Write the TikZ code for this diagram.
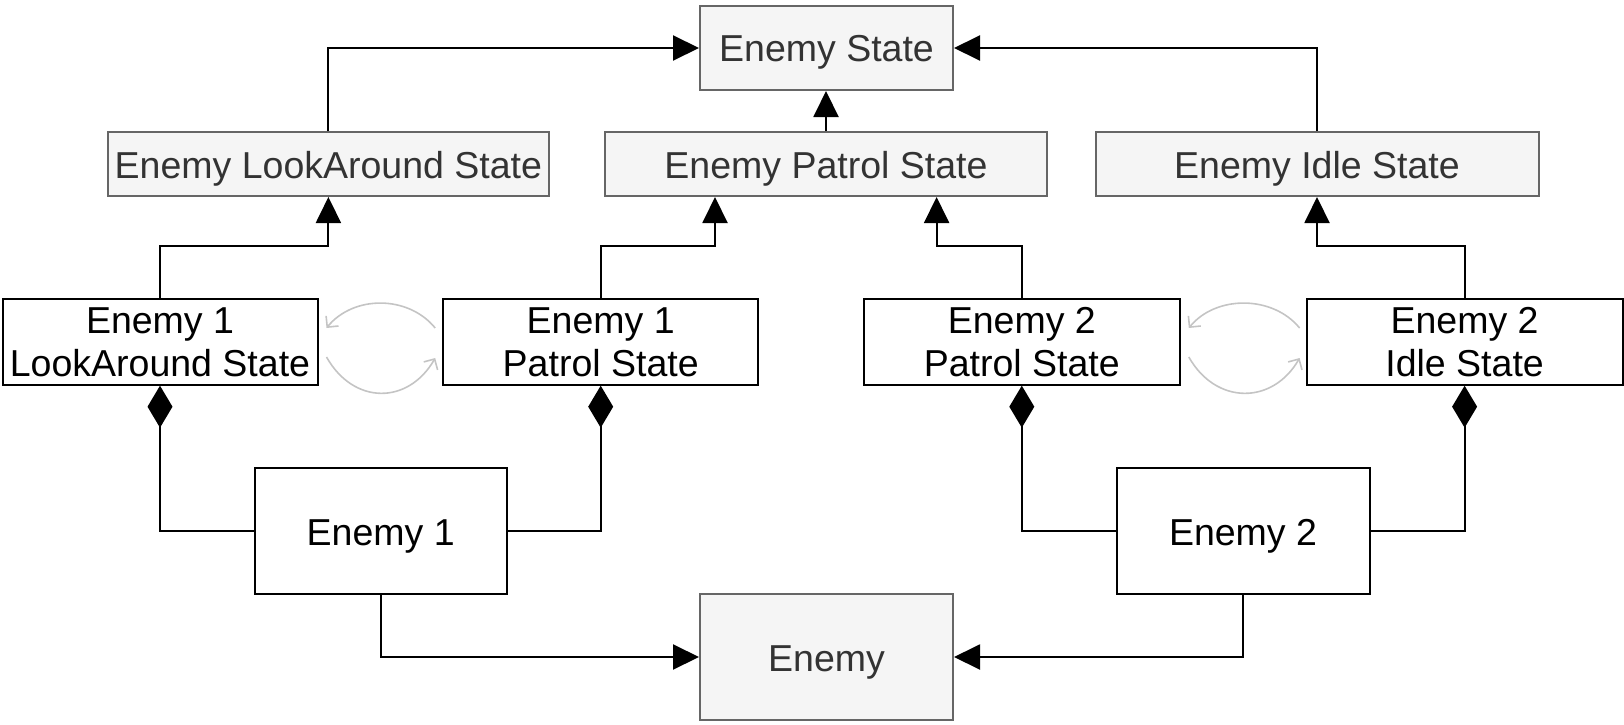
\documentclass[tikz,border=0pt]{standalone}
\usepackage{fontspec}
\setmainfont{Liberation Sans}
\usetikzlibrary{arrows.meta}
\definecolor{gfill}{HTML}{F5F5F5}
\definecolor{gborder}{HTML}{666666}
\definecolor{gtext}{HTML}{333333}
\definecolor{arcgray}{HTML}{C4C4C4}
\begin{document}
\begin{tikzpicture}[x=1pt,y=-1pt,
 box/.style={draw=black, line width=2pt, fill=white, inner sep=0pt, align=center,
   font=\fontsize{37.5}{43.5}\selectfont, text=black, text height=34pt, text depth=6pt},
 twoline/.style={text height=77.4pt, text depth=8pt},
 gbox/.style={box, draw=gborder, fill=gfill, text=gtext},
 conn/.style={line width=2pt, -{Triangle[length=26pt,width=25pt]}},
 comp/.style={line width=2pt, -{Diamond[length=42pt,width=25pt]}},
 arcline/.style={draw=arcgray, line width=1.6pt, -{Straight Barb[length=8pt,width=16pt]}}
]
\useasboundingbox (0,0) rectangle (1624,725);

% gray abstract states
\node[gbox, minimum width=253pt, minimum height=84pt] (ES) at (826.5,48) {Enemy State};
\node[gbox, minimum width=441pt, minimum height=64pt] (LA) at (328.4,164) {Enemy LookAround State};
\node[gbox, minimum width=442pt, minimum height=64pt] (PS) at (826,164) {Enemy Patrol State};
\node[gbox, minimum width=443pt, minimum height=64pt] (IS) at (1317,164) {Enemy Idle State};
\node[gbox, minimum width=253pt, minimum height=126pt] (EN) at (826.5,657) {Enemy};

% concrete states
\node[box, twoline, minimum width=315pt, minimum height=84pt] (E1LA) at (160,342) {Enemy 1\\LookAround State};
\node[box, twoline, minimum width=315pt, minimum height=84pt] (E1P) at (600.7,342) {Enemy 1\\Patrol State};
\node[box, twoline, minimum width=316pt, minimum height=84pt] (E2P) at (1021.8,342) {Enemy 2\\Patrol State};
\node[box, twoline, minimum width=316pt, minimum height=84pt] (E2I) at (1464.6,342) {Enemy 2\\Idle State};

% enemies
\node[box, minimum width=252pt, minimum height=126pt] (E1) at (380.7,531) {Enemy 1};
\node[box, minimum width=253pt, minimum height=126pt] (E2) at (1243,531) {Enemy 2};

% inheritance to Enemy State
\draw[conn] (LA.north) |- (ES.west);
\draw[conn] (IS.north) |- (ES.east);
\draw[conn] (PS.north) -- (PS.north |- ES.south);

% inheritance from concrete states
\draw[conn] (E1LA.north) -- ++(0,-52.7) -| (LA.south);
\draw[conn] (E1P.north) -- ++(0,-52.7) -| ([xshift=-111pt]PS.south);
\draw[conn] (E2P.north) -- ++(0,-52.7) -| ([xshift=110.6pt]PS.south);
\draw[conn] (E2I.north) -- ++(0,-52.7) -| (IS.south);

% composition
\draw[comp] (E1.west) -| (E1LA.south);
\draw[comp] (E1.east) -| (E1P.south);
\draw[comp] (E2.west) -| (E2P.south);
\draw[comp] (E2.east) -| (E2I.south);

% inheritance to Enemy
\draw[conn] (E1.south) |- (EN.west);
\draw[conn] (E2.south) |- (EN.east);

% transitions
\draw[arcline] ([xshift=-7pt,yshift=14pt]E1P.west) .. controls +(-27,-33) and +(27,-33) .. ([xshift=8pt,yshift=14pt]E1LA.east);
\draw[arcline] ([xshift=8pt,yshift=-15pt]E1LA.east) .. controls +(27,48) and +(-27,47) .. ([xshift=-7pt,yshift=-16pt]E1P.west);
\draw[arcline] ([xshift=-6pt,yshift=14pt]E2I.west) .. controls +(-27,-33) and +(27,-33) .. ([xshift=8pt,yshift=14pt]E2P.east);
\draw[arcline] ([xshift=8pt,yshift=-15pt]E2P.east) .. controls +(27,48) and +(-27,47) .. ([xshift=-6pt,yshift=-16pt]E2I.west);
\end{tikzpicture}
\end{document}
